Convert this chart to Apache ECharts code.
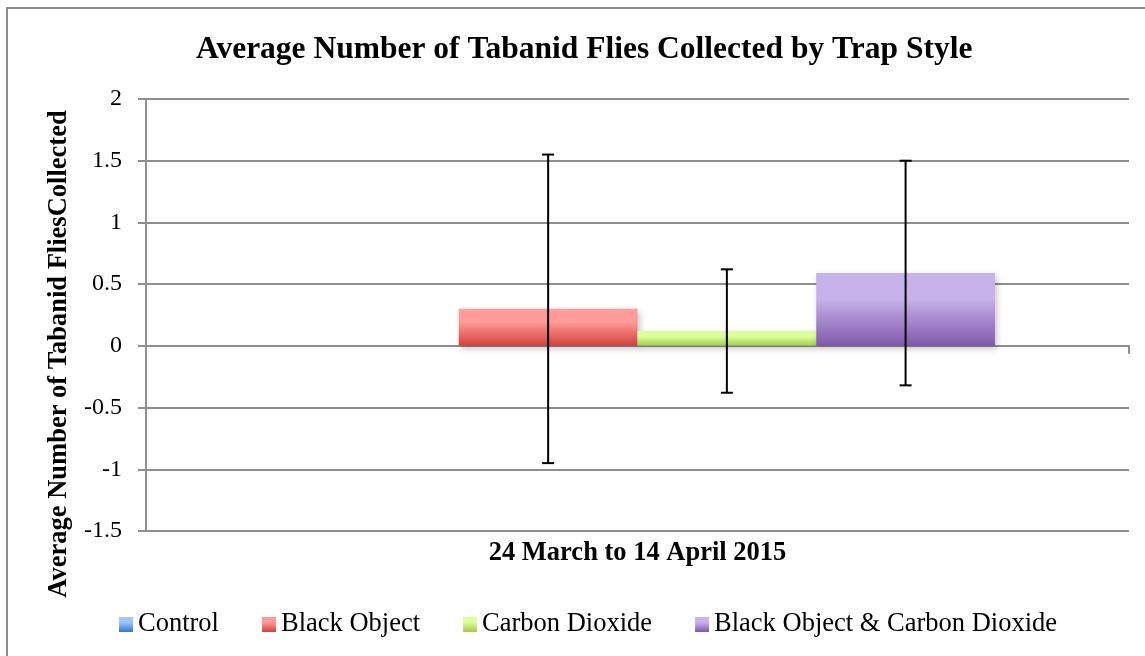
<!DOCTYPE html>
<html>
<head>
<meta charset="utf-8">
<script src="https://cdn.jsdelivr.net/npm/echarts@6/dist/echarts.min.js"></script>
<style>
  html, body { margin: 0; padding: 0; background: #fff; }
  #chart { width: 1145px; height: 656px; }
</style>
</head>
<body>
<div id="chart"></div>
<script>
// Tabanid flies per trap style, one collection period
const categories = ['24 March to 14 April 2015'];
const seriesNames = ['Control', 'Black Object', 'Carbon Dioxide', 'Black Object & Carbon Dioxide'];
const means = [0, 0.30, 0.12, 0.59];
const errors = [null, 1.25, 0.50, 0.91];
const yTicks = { min: -1.5, max: 2, step: 0.5 };

const SERIF = '"Liberation Serif", "DejaVu Serif", serif';
const GRID = '#8e8e8e';
const GAP = 1.5 / 5.5; // excel gap width 150%

const fills = [
  ['#a0c4ff', '#3b74c6'],
  ['#ff9b98', '#d2403d'],
  ['#dcff9c', '#a2cb4f'],
  ['#c8b2eb', '#8058aa']
];

function grad(c) {
  return new echarts.graphic.LinearGradient(0, 0, 0, 1, [
    { offset: 0, color: c[0] },
    { offset: 0.35, color: c[0] },
    { offset: 1, color: c[1] }
  ]);
}

const barSeries = seriesNames.map((name, i) => ({
  name,
  type: 'bar',
  data: [means[i]],
  barGap: '0%',
  barCategoryGap: (GAP * 100).toFixed(2) + '%',
  itemStyle: {
    color: grad(fills[i]),
    shadowColor: 'rgba(0,0,0,0.22)',
    shadowBlur: 6,
    shadowOffsetX: 2,
    shadowOffsetY: 3
  },
  z: 2
}));

const errData = [];
means.forEach((m, i) => {
  if (errors[i] == null) return;
  errData.push([0, m - errors[i], m + errors[i], i]);
});

const errSeries = {
  type: 'custom',
  name: 'err',
  data: errData,
  encode: { x: 0, y: [1, 2] },
  z: 5,
  silent: true,
  renderItem: (params, api) => {
    const n = seriesNames.length;
    const lo = api.coord([0, api.value(1)]);
    const hi = api.coord([0, api.value(2)]);
    const catW = api.size([1, 0])[0];
    const bw = catW * (1 - GAP) / n;
    const x = lo[0] - n * bw / 2 + (api.value(3) + 0.5) * bw;
    const cap = 6;
    const st = { stroke: '#000', lineWidth: 2 };
    return {
      type: 'group',
      children: [
        { type: 'line', shape: { x1: x, y1: lo[1], x2: x, y2: hi[1] }, style: st },
        { type: 'line', shape: { x1: x - cap, y1: lo[1], x2: x + cap, y2: lo[1] }, style: st },
        { type: 'line', shape: { x1: x - cap, y1: hi[1], x2: x + cap, y2: hi[1] }, style: st }
      ]
    };
  }
};

const chart = echarts.init(document.getElementById('chart'));
chart.setOption({
  animation: false,
  backgroundColor: '#fff',
  graphic: [{
    type: 'rect', silent: true,
    shape: { x: 7, y: 8, width: 1150, height: 660 },
    style: { fill: 'none', stroke: '#8c8c8c', lineWidth: 2 }
  }],
  title: {
    text: 'Average Number of Tabanid Flies Collected by Trap Style',
    left: 191, top: 29,
    textStyle: { fontFamily: SERIF, fontWeight: 'bold', fontSize: 31.5, color: '#000' }
  },
  legend: {
    data: seriesNames,
    left: 119, top: 611, padding: 0,
    itemWidth: 14, itemHeight: 15, itemGap: 43,
    icon: 'rect',
    textStyle: { fontFamily: SERIF, fontSize: 26.5, color: '#000' }
  },
  grid: { left: 146, right: 16, top: 99, bottom: 125 },
  xAxis: [{
    type: 'category',
    data: categories,
    position: 'bottom',
    axisLine: { onZero: true, lineStyle: { color: GRID, width: 2 } },
    axisTick: { show: true, length: 8, lineStyle: { color: GRID, width: 2 } },
    axisLabel: { show: false },
    splitLine: { show: false }
  }, {
    type: 'category',
    data: categories,
    position: 'bottom',
    axisLine: { show: false, onZero: false },
    axisTick: { show: false },
    axisLabel: { margin: 9, fontFamily: SERIF, fontWeight: 'bold', fontSize: 26.5, color: '#000' },
    splitLine: { show: false }
  }],
  yAxis: {
    type: 'value',
    min: yTicks.min, max: yTicks.max, interval: yTicks.step,
    name: 'Average Number of Tabanid FliesCollected',
    nameLocation: 'middle',
    nameRotate: 90,
    nameGap: 73,
    nameTextStyle: { fontFamily: SERIF, fontWeight: 'bold', fontSize: 26.5, color: '#000', padding: [0, 78, 0, 0] },
    axisLine: { show: true, lineStyle: { color: GRID, width: 2 } },
    axisTick: { show: true, length: 8, lineStyle: { color: GRID, width: 2 } },
    axisLabel: { margin: 24, fontFamily: SERIF, fontSize: 24, color: '#000' },
    splitLine: { lineStyle: { color: GRID, width: 2 } }
  },
  series: [...barSeries, errSeries]
});
</script>
</body>
</html>
